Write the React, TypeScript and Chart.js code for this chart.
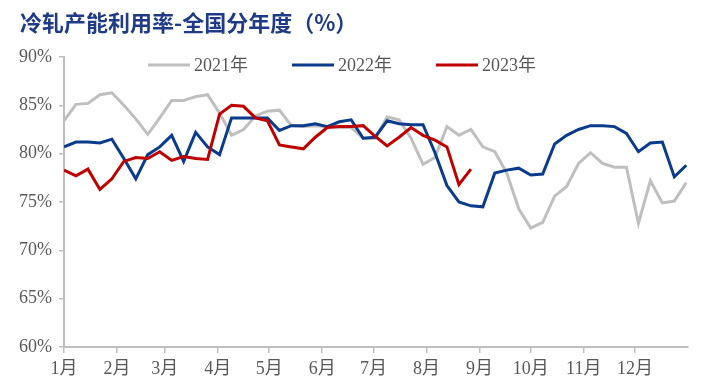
import React, { useEffect, useRef } from "react";
import { Chart, registerables } from "chart.js";

Chart.register(...registerables);

const monthLabels = ["1月", "2月", "3月", "4月", "5月", "6月", "7月", "8月", "9月", "10月", "11月", "12月"];
const monthStartDays = [0, 31, 59, 90, 120, 151, 181, 212, 243, 273, 304, 334];
const yTickValues = [60, 65, 70, 75, 80, 85, 90];

const seriesNames = ["2021年", "2022年", "2023年"];
const seriesColors = ["#BFBFBF", "#0B3B8C", "#C00000"];

const values2021 = [
  83.4, 85.1, 85.2, 86.1, 86.3, 85.0, 83.6, 82.0, 83.7, 85.5, 85.5, 85.9, 86.1,
  84.2, 81.9, 82.5, 83.9, 84.4, 84.5, 82.9, 82.8, 82.9, 82.8, 82.7, 82.7, 81.6,
  81.6, 83.8, 83.5, 81.6, 78.9, 79.6, 82.8, 81.9, 82.5, 80.7, 80.2, 78.0, 74.3,
  72.3, 72.9, 75.6, 76.6, 79.0, 80.1, 79.0, 78.6, 78.6, 72.8, 77.2, 74.9, 75.1, 77.0,
];
const values2022 = [
  80.7, 81.2, 81.2, 81.1, 81.5, 79.5, 77.4, 79.9, 80.7, 81.9, 79.2, 82.2, 80.7,
  79.9, 83.7, 83.7, 83.7, 83.7, 82.4, 82.9, 82.9, 83.1, 82.8, 83.3, 83.5, 81.6,
  81.7, 83.4, 83.1, 83.0, 83.0, 80.1, 76.7, 75.0, 74.6, 74.5, 78.0, 78.3, 78.5,
  77.8, 77.9, 81.0, 81.9, 82.5, 82.9, 82.9, 82.8, 82.1, 80.2, 81.1, 81.2, 77.6, 78.8,
];
const values2023 = [
  78.3, 77.7, 78.4, 76.3, 77.4, 79.2, 79.6, 79.5, 80.2, 79.3, 79.7, 79.5, 79.4,
  84.1, 85.0, 84.9, 83.7, 83.4, 80.9, 80.7, 80.5, 81.7, 82.7, 82.8, 82.8, 82.9,
  81.8, 80.8, 81.7, 82.7, 81.9, 81.4, 80.7, 76.8, 78.4,
];

const seriesValues = [values2021, values2022, values2023];
const DAYS_PER_WEEK = 7;

const FONT = "'Liberation Serif', 'Noto Sans CJK SC', serif";
const TEXT_COLOR = "#595959";
const AXIS_COLOR = "#BFBFBF";

const legendPlugin = {
  id: "overlayLegend",
  afterDraw(chart: any) {
    const ctx = chart.ctx;
    ctx.save();
    ctx.font = `18px ${FONT}`;
    ctx.textBaseline = "middle";
    ctx.textAlign = "left";
    let x = 148;
    const y = 65;
    [0, 1, 2].forEach((i) => {
      const ds = chart.data.datasets[i];
      ctx.strokeStyle = ds.borderColor;
      ctx.lineWidth = 3;
      ctx.beginPath();
      ctx.moveTo(x, y);
      ctx.lineTo(x + 42, y);
      ctx.stroke();
      ctx.fillStyle = TEXT_COLOR;
      ctx.fillText(ds.label, x + 46, y + 1);
      const w = ctx.measureText(ds.label).width;
      x = x + 46 + w + 44;
    });
    ctx.restore();
  },
};

export default function App() {
  const canvasRef = useRef<HTMLCanvasElement | null>(null);

  useEffect(() => {
    if (!canvasRef.current) return;
    const datasets = seriesValues.map((vals, s) => ({
      label: seriesNames[s],
      data: vals.map((v, i) => ({ x: i * DAYS_PER_WEEK, y: v })),
      borderColor: seriesColors[s],
      backgroundColor: seriesColors[s],
      borderWidth: 3,
      pointRadius: 0,
      tension: 0,
      fill: false,
      order: 3 - s,
    }));

    const chart = new Chart(canvasRef.current, {
      type: "line",
      data: { datasets },
      plugins: [legendPlugin],
      options: {
        responsive: false,
        animation: false,
        devicePixelRatio: 1,
        layout: { padding: { top: 57, right: 22, left: 0, bottom: 0 } },
        plugins: {
          legend: { display: false },
          tooltip: { enabled: false },
          title: { display: false },
        },
        scales: {
          x: {
            type: "linear",
            min: 0,
            max: 365,
            afterBuildTicks: (scale: any) => {
              scale.ticks = monthStartDays.map((d) => ({ value: d }));
            },
            afterFit: (scale: any) => {
              scale.height = 44;
            },
            ticks: {
              autoSkip: false,
              maxRotation: 0,
              padding: 5,
              color: TEXT_COLOR,
              font: { family: FONT, size: 18 },
              callback: (_v: any, i: number) => monthLabels[i],
            },
            grid: {
              drawOnChartArea: false,
              drawTicks: true,
              tickLength: 6,
              color: AXIS_COLOR,
              lineWidth: 1.5,
            },
            border: { display: true, color: AXIS_COLOR, width: 2 },
          },
          y: {
            min: 60,
            max: 90,
            afterBuildTicks: (scale: any) => {
              scale.ticks = yTickValues.map((v) => ({ value: v }));
            },
            afterFit: (scale: any) => {
              scale.width = 64;
            },
            ticks: {
              padding: 7,
              color: TEXT_COLOR,
              font: { family: FONT, size: 18 },
              callback: (v: any) => `${v}%`,
            },
            grid: {
              drawOnChartArea: false,
              drawTicks: true,
              tickLength: 5,
              color: AXIS_COLOR,
              lineWidth: 1.5,
            },
            border: { display: true, color: AXIS_COLOR, width: 2 },
          },
        },
      },
    } as any);

    return () => chart.destroy();
  }, []);

  return (
    <div style={{ position: "fixed", left: 0, top: 0, width: 710, height: 391, background: "#ffffff" }}>
      <div
        style={{
          position: "absolute",
          left: 20,
          top: 10,
          fontFamily: "'Noto Sans CJK SC', sans-serif",
          fontWeight: 700,
          fontSize: 22,
          lineHeight: "22px",
          color: "#1F3B87",
          whiteSpace: "nowrap",
        }}
      >
        冷轧产能利用率-全国分年度（%）
      </div>
      <canvas ref={canvasRef} width={710} height={391} style={{ width: 710, height: 391, display: "block" }} />
    </div>
  );
}
